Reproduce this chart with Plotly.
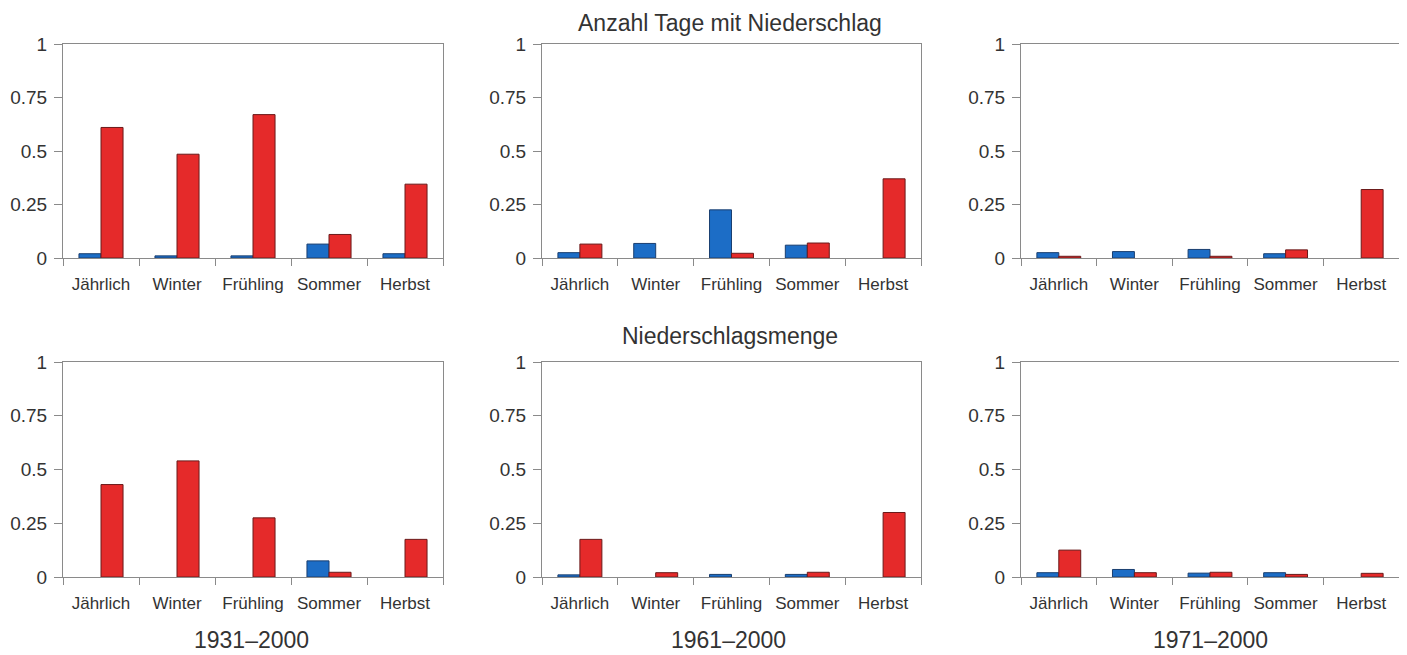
import plotly.graph_objects as go

categories = ["Jährlich", "Winter", "Frühling", "Sommer", "Herbst"]

# Anzahl Tage mit Niederschlag (top row); None = no bar visible
tage_1931_blue = [0.02, 0.01, 0.01, 0.065, 0.02]
tage_1931_red = [0.61, 0.485, 0.67, 0.11, 0.345]
tage_1961_blue = [0.025, 0.068, 0.225, 0.06, None]
tage_1961_red = [0.065, None, 0.022, 0.07, 0.37]
tage_1971_blue = [0.025, 0.03, 0.04, 0.02, None]
tage_1971_red = [0.008, None, 0.008, 0.038, 0.32]

# Niederschlagsmenge (bottom row)
menge_1931_blue = [None, None, None, 0.075, None]
menge_1931_red = [0.43, 0.54, 0.275, 0.022, 0.175]
menge_1961_blue = [0.01, None, 0.012, 0.012, None]
menge_1961_red = [0.175, 0.02, None, 0.022, 0.30]
menge_1971_blue = [0.02, 0.035, 0.018, 0.02, None]
menge_1971_red = [0.125, 0.02, 0.022, 0.012, 0.017]

periods = ["1931–2000", "1961–2000", "1971–2000"]
row_titles = ["Anzahl Tage mit Niederschlag", "Niederschlagsmenge"]
y_ticks = [0, 0.25, 0.5, 0.75, 1]
y_ticklabels = ["0", "0.25", "0.5", "0.75", "1"]

panels = [
    [(tage_1931_blue, tage_1931_red), (tage_1961_blue, tage_1961_red), (tage_1971_blue, tage_1971_red)],
    [(menge_1931_blue, menge_1931_red), (menge_1961_blue, menge_1961_red), (menge_1971_blue, menge_1971_red)],
]

# page has an 8px body margin, so the figure is offset by 8px
OFF = 8
W, H = 1407 - OFF, 655 - OFF
col_px = [(63, 443), (542, 921), (1021, 1399)]
row_px = [(44, 258), (362, 577)]


def fx(px):
    return (px - OFF) / W


def fy(py):
    return 1 - (py - OFF) / H


BLUE = "#1c6dc6"
RED = "#e52a2a"
TEXT = "#333333"
FRAME = "#8a8a8a"
FONT = "Liberation Sans, Arial, sans-serif"

fig = go.Figure()
layout = {}
k = 0
for r in range(2):
    for c in range(3):
        k += 1
        xa = "x" if k == 1 else f"x{k}"
        ya = "y" if k == 1 else f"y{k}"
        blue, red = panels[r][c]
        for vals, col, line in ((blue, BLUE, "#1a3f70"), (red, RED, "#6a1a1a")):
            fig.add_trace(go.Bar(
                x=categories, y=vals, xaxis=xa, yaxis=ya,
                marker=dict(color=col, line=dict(color=line, width=1)),
                showlegend=False, hoverinfo="skip"))
        x0, x1 = col_px[c]
        y0, y1 = row_px[r]
        xkey = "xaxis" if k == 1 else f"xaxis{k}"
        ykey = "yaxis" if k == 1 else f"yaxis{k}"
        layout[xkey] = dict(
            domain=[fx(x0), fx(x1)], anchor=ya, type="category",
            showline=True, mirror=True, linecolor=FRAME, linewidth=1,
            ticks="outside", tickson="boundaries", ticklen=7, tickcolor=FRAME,
            ticklabelstandoff=11,
            tickfont=dict(size=17, color=TEXT, family=FONT), automargin=False,
            showgrid=False, zeroline=False, fixedrange=True)
        layout[ykey] = dict(
            domain=[fy(y1), fy(y0)], anchor=xa, range=[0, 1],
            tickvals=y_ticks, ticktext=y_ticklabels, automargin=False,
            showline=True, mirror=True, linecolor=FRAME, linewidth=1,
            ticks="outside", ticklen=8, tickcolor=FRAME, ticklabelstandoff=3,
            tickfont=dict(size=19, color=TEXT, family=FONT),
            showgrid=False, zeroline=False, fixedrange=True)

annotations = [
    dict(text=row_titles[0], x=fx(730), y=1, xref="paper", yref="paper",
         xanchor="center", yanchor="top",
         showarrow=False, font=dict(size=23, color=TEXT, family=FONT)),
    dict(text=row_titles[1], x=fx(730), y=fy(336), xref="paper", yref="paper",
         xanchor="center", yanchor="middle",
         showarrow=False, font=dict(size=23, color=TEXT, family=FONT)),
]
period_x = [252, 728, 1210]
for px, lab in zip(period_x, periods):
    annotations.append(dict(text=lab, x=fx(px), y=fy(640), xref="paper", yref="paper",
                            xanchor="center", yanchor="middle",
                            showarrow=False, font=dict(size=23, color=TEXT, family=FONT)))

fig.update_layout(
    width=W, height=H, margin=dict(l=0, r=0, t=0, b=0, autoexpand=False),
    paper_bgcolor="white", plot_bgcolor="white",
    barmode="group", bargap=0.42, bargroupgap=0,
    annotations=annotations, **layout)

fig.write_html("out.html")
